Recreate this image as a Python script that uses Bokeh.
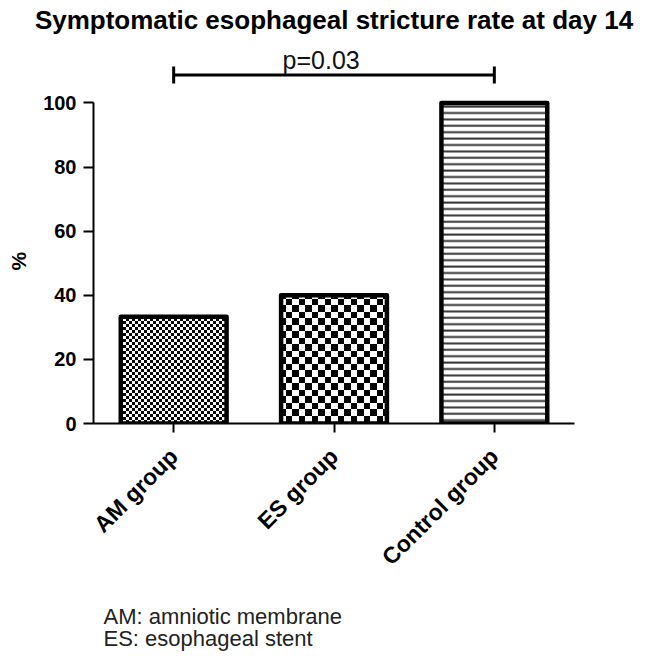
import zlib, struct, base64
from bokeh.plotting import figure
from bokeh.models import Range1d, FixedTicker, Label, ColumnDataSource, ImageURLTexture, Title
from bokeh.embed import file_html
from bokeh.resources import INLINE

# ---- data ----
groups = ["AM group", "ES group", "Control group"]
rates = [33.3, 40.0, 100.0]
patterns = ["am", "es", "horizontal_line"]
y_ticks = [0, 20, 40, 60, 80, 100]
comparison = ("AM group", "Control group")
p_text = "p=0.03"
bracket_level = 108.7
title_text = "Symptomatic esophageal stricture rate at day 14"
footnotes = ["AM: amniotic membrane", "ES: esophageal stent"]


def checker_png(period, dark):
    rows = b""
    for y in range(period):
        row = b"\x00"
        for x in range(period):
            d = ((x < dark) == (y < dark))
            row += bytes((0, 0, 0) if d else (255, 255, 255))
        rows += row

    def chunk(t, d):
        return struct.pack(">I", len(d)) + t + d + struct.pack(">I", zlib.crc32(t + d) & 0xFFFFFFFF)

    png = (b"\x89PNG\r\n\x1a\n"
           + chunk(b"IHDR", struct.pack(">IIBBBBB", period, period, 8, 2, 0, 0, 0))
           + chunk(b"IDAT", zlib.compress(rows))
           + chunk(b"IEND", b""))
    return "data:image/png;base64," + base64.b64encode(png).decode()


FONT = "Liberation Sans"
W, H = 640, 656

xs = [i + 0.5 for i in range(len(groups))]
src = ColumnDataSource(dict(x=xs, top=rates, pat=patterns))

p = figure(width=W, height=H, x_range=Range1d(0, 3), y_range=Range1d(0, 119.5),
           output_backend="svg", toolbar_location=None,
           min_border_left=93, min_border_right=W - 574, min_border_top=40,
           min_border_bottom=H - 423)
p.outline_line_color = None
p.xgrid.visible = False
p.ygrid.visible = False
p.background_fill_color = "white"
p.border_fill_color = "white"

p.title.text = title_text
p.title.text_font = FONT
p.title.text_font_size = "26px"
p.title.text_font_style = "bold"
p.title.text_color = "black"
p.title.align = "center"
p.title.vertical_align = "top"
p.title.standoff = 8

p.vbar(x="x", top="top", bottom=0, width=0.66, source=src,
       fill_color="white", line_color="black", line_width=4.5, line_join="round",
       hatch_pattern="pat", hatch_color="#333333", hatch_weight=2, hatch_scale=6.4,
       hatch_extra={"am": ImageURLTexture(url=checker_png(6, 3), repetition="repeat"),
                    "es": ImageURLTexture(url=checker_png(13, 6), repetition="repeat")})

# significance bracket
i0 = groups.index(comparison[0]) + 0.5
i1 = groups.index(comparison[1]) + 0.5
tick_half = 2.65
p.segment(x0=[i0, i0, i1], y0=[bracket_level, bracket_level - tick_half, bracket_level - tick_half],
          x1=[i1, i0, i1], y1=[bracket_level, bracket_level + tick_half, bracket_level + tick_half],
          line_color="black", line_width=3)
p.add_layout(Label(x=(i0 + i1) / 2 - 0.08, y=bracket_level + 0.3, text=p_text,
                   text_font=FONT, text_font_size="25px", text_color="#111111",
                   text_align="center", text_baseline="bottom"))

# footnotes below the axis (a thin spacer first)
p.add_layout(Title(text="\u00a0", text_font_size="1px", standoff=16), "below")
p.add_layout(Title(text="\n".join(footnotes), text_font=FONT, text_font_size="22px",
                   text_font_style="normal", text_color="#222222", align="left", offset=10,
                   text_line_height=0.87, standoff=0), "below")

# axes
xa = p.xaxis[0]
xa.ticker = FixedTicker(ticks=xs)
xa.major_label_overrides = {x: g for x, g in zip(xs, groups)}
xa.major_label_orientation = 0.785398
xa.major_label_text_font = FONT
xa.major_label_text_font_size = "23px"
xa.major_label_text_font_style = "bold"
xa.major_label_text_color = "black"
xa.major_tick_out = 9
xa.major_tick_in = 0
xa.minor_tick_line_color = None
xa.axis_line_width = 2
xa.major_tick_line_width = 2
xa.major_label_standoff = 20

ya = p.yaxis[0]
ya.ticker = FixedTicker(ticks=y_ticks)
ya.bounds = (0, 100)
ya.major_label_text_font = FONT
ya.major_label_text_font_size = "20px"
ya.major_label_text_font_style = "bold"
ya.major_label_text_color = "black"
ya.major_tick_out = 10
ya.major_tick_in = 0
ya.minor_tick_line_color = None
ya.axis_line_width = 2
ya.major_tick_line_width = 2
ya.major_label_standoff = 7
ya.axis_label = "%" + "\u00a0" * 10
ya.axis_label_text_font = FONT
ya.axis_label_text_font_size = "21px"
ya.axis_label_text_font_style = "bold"
ya.axis_label_text_color = "black"
ya.axis_label_standoff = 10

open("out.html", "w").write(file_html(p, INLINE))
